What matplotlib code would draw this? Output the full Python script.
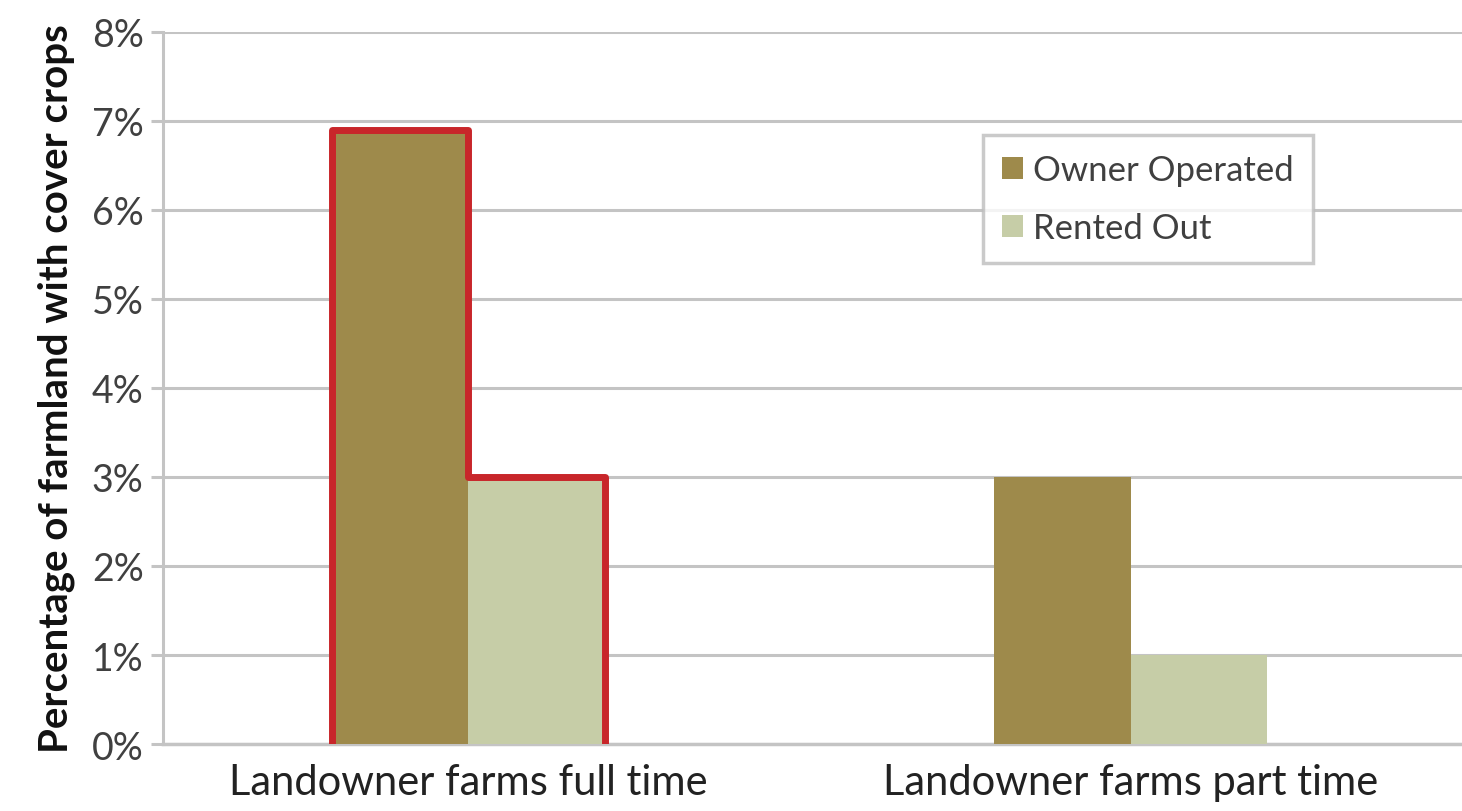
import matplotlib.pyplot as plt
import numpy as np

categories = ['Landowner farms full time', 'Landowner farms part time']
series_names = ['Owner Operated', 'Rented Out']
owner_operated = [6.9, 3.0]
rented_out = [3.0, 1.0]
y_ticks = [0, 1, 2, 3, 4, 5, 6, 7, 8]

owner_color = '#9e8a4b'
rented_color = '#c6cda7'
grid_color = '#c4c4c4'
text_color = '#404040'

plt.rcParams['font.family'] = ['Lato', 'DejaVu Sans']

fig = plt.figure(figsize=(14.62, 8.12), dpi=100)
ax = fig.add_axes([0.1115, 0.0825, 0.8885, 0.8769])

x = np.arange(len(categories))
width = 0.206
ax.bar(x - width / 2, owner_operated, width, color=owner_color, label=series_names[0], zorder=3)
ax.bar(x + width / 2, rented_out, width, color=rented_color, label=series_names[1], zorder=3)

# red outline around the full-time group, stepping down from owner to rented bar
x0 = x[0] - width
xm = x[0]
x1 = x[0] + width
ox = [x0, x0, xm, xm, x1, x1]
oy = [0, owner_operated[0], owner_operated[0], rented_out[0], rented_out[0], 0]
ax.plot(ox, oy, color='#c8262a', linewidth=5, solid_joinstyle='round', zorder=4)

ax.set_xlim(-0.461, 1.5)
ax.set_ylim(0, 8)
ax.set_yticks(y_ticks)
ax.set_yticklabels([f'{v}%' for v in y_ticks])
ax.set_xticks(x)
ax.set_xticklabels(categories)

ax.yaxis.grid(True, color=grid_color, linewidth=2.2, zorder=0)
ax.set_axisbelow(True)
for side in ['top', 'right']:
    ax.spines[side].set_visible(False)
ax.spines['left'].set_color(grid_color)
ax.spines['left'].set_linewidth(2.2)
ax.spines['bottom'].set_color(grid_color)
ax.spines['bottom'].set_linewidth(2.5)

ax.tick_params(axis='y', length=9, width=2.2, color=grid_color, labelsize=27,
               labelcolor=text_color, pad=5)
ax.tick_params(axis='x', length=0, labelsize=30, labelcolor='#222222', pad=14)

ax.set_ylabel('Percentage of farmland with cover crops', fontsize=29, fontweight='bold',
              color='#111111', labelpad=12)

leg = ax.legend(loc='upper left', bbox_to_anchor=(0.618, 0.88), fontsize=25,
                frameon=True, fancybox=False, handlelength=0.6, handleheight=0.6,
                handletextpad=0.3, labelspacing=0.75, borderpad=0.55, labelcolor=text_color)
leg.get_frame().set_edgecolor('#bdbdbd')
leg.get_frame().set_linewidth(2.5)

fig.savefig('out.png', dpi=100, facecolor='white')
